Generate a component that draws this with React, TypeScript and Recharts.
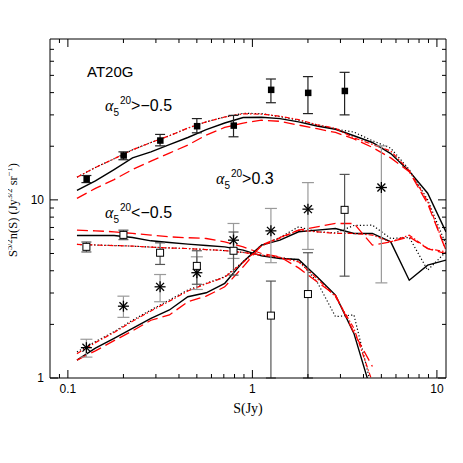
import React from "react"
import {
  ComposedChart,
  Line,
  Scatter,
  ErrorBar,
  XAxis,
  YAxis
} from "recharts"

// model grid (Jy)
const S_GRID = [0.112, 0.141, 0.178, 0.224, 0.282, 0.355, 0.447, 0.562, 0.708, 0.891, 1.12, 1.41, 1.78, 2.24, 2.82, 3.55, 4.47, 5.62, 7.08, 8.91, 11.2]

// alpha > -0.5 models
const ALL_SOLID = [11.3, 12.8, 14.8, 17.2, 18.6, 20.4, 22.4, 24.8, 27.0, 29.0, 29.1, 28.6, 27.4, 26.0, 24.9, 22.9, 21.0, 18.2, 14.5, 10.9, 6.6]
const ALL_DOTTED = [13.4, 15.2, 17.0, 19.1, 21.0, 22.9, 25.3, 27.4, 29.2, 30.6, 30.5, 29.3, 28.0, 26.4, 25.0, 24.0, 21.5, 19.5, 14.8, 10.0, 5.6]
const ALL_DASHDOT = [13.4, 15.2, 17.0, 19.1, 21.0, 22.9, 25.3, 27.4, 29.2, 30.4, 30.3, 29.5, 28.2, 26.4, 25.2, 22.3, 20.5, 18.8, 14.6, 9.8, 5.2]
const ALL_DASH = [10.2, 11.6, 13.0, 14.8, 16.5, 18.3, 20.3, 23.1, 25.5, 27.0, 28.0, 27.6, 26.3, 25.1, 23.9, 22.0, 19.7, 17.2, 14.4, 9.5, 5.2]

// alpha < -0.5 models
const STEEP_SOLID = [6.31, 6.31, 6.31, 6.15, 5.89, 5.76, 5.64, 5.54, 5.45, 5.22, 4.85, 4.69, 4.63, 3.70, 2.92, 1.78, 0.8]
const STEEP_DOTTED = [5.62, 5.58, 5.54, 5.50, 5.43, 5.37, 5.33, 5.26, 5.19, 5.07, 4.90, 4.75, 4.59, 3.47, 2.21, 2.26, 0.85]
const STEEP_DASHDOT = [5.62, 5.58, 5.54, 5.50, 5.43, 5.37, 5.33, 5.26, 5.19, 5.07, 4.90, 4.75, 4.49, 3.62, 2.86, 1.90, 0.95]
const STEEP_DASH = [6.76, 6.70, 6.62, 6.48, 6.34, 6.20, 6.13, 6.07, 5.81, 5.45, 5.00, 4.79, 4.15, 3.47, 2.92, 1.80, 1.16]

// alpha > 0.3 models
const INV_SOLID = [1.26, 1.47, 1.67, 1.90, 2.16, 2.41, 2.86, 3.01, 3.40, 4.50, 5.57, 5.94, 6.62, 6.76, 6.90, 6.48, 6.48, 5.81, 3.54, 4.30, 4.59]
const INV_DOTTED = [1.40, 1.60, 1.82, 2.11, 2.41, 2.74, 3.12, 3.40, 3.70, 4.49, 5.57, 6.15, 7.06, 6.62, 6.53, 7.18, 7.21, 6.07, 6.15, 4.03, 5.11]
const INV_DASHDOT = [1.37, 1.58, 1.80, 2.08, 2.38, 2.70, 3.08, 3.38, 3.68, 4.45, 5.50, 6.10, 6.76, 6.62, 6.48, 6.48, 6.34, 5.81, 6.34, 5.33, 5.11]
const INV_DASH = [1.26, 1.42, 1.62, 1.84, 2.11, 2.26, 2.68, 2.88, 3.25, 4.21, 5.57, 6.15, 6.76, 7.06, 7.37, 7.37, 5.57, 5.81, 6.20, 5.33, 4.99]

// measured counts
const BINS = [0.126, 0.2, 0.316, 0.5, 0.79, 1.26, 2.0, 3.16]
const ALL_N = [13.1, 17.8, 21.6, 26.0, 26.2, 41.6, 40.0, 41.0]
const ALL_LO = [12.5, 16.8, 20.1, 23.8, 22.6, 35.1, 30.5, 30.0]
const ALL_HI = [13.7, 18.6, 23.3, 28.6, 29.8, 47.7, 49.2, 52.0]

const STEEP_N = [5.45, 6.36, 5.05, 4.26, 5.18, 2.24, 2.96, 8.79]
const STEEP_LO = [5.1, 5.98, 4.34, 3.36, 3.78, 1.0, 1.0, 3.73]
const STEEP_HI = [5.8, 6.76, 5.74, 5.18, 6.6, 3.5, 5.05, 13.9]

const INV_BINS = [0.126, 0.2, 0.316, 0.5, 0.79, 1.26, 2.0, 5.0]
const INV_N = [1.48, 2.53, 3.25, 3.9, 5.94, 6.7, 8.87, 11.73]
const INV_LO = [1.31, 2.19, 2.68, 3.14, 4.69, 4.44, 5.27, 3.42]
const INV_HI = [1.65, 2.88, 3.81, 4.79, 7.37, 8.95, 12.5, 20.1]

const X_TICKS = [0.09, 0.1, 0.2, 0.3, 0.4, 0.5, 0.6, 0.7, 0.8, 0.9, 1, 2, 3, 4, 5, 6, 7, 8, 9, 10]
const X_MAJOR = [0.1, 1, 10]
const Y_TICKS = [1, 2, 3, 4, 5, 6, 7, 8, 9, 10, 20, 30, 40, 50, 60, 70]
const Y_MAJOR = [1, 10]

const W = 447
const H = 447

const line = (vals: number[]) => vals.map((v, i) => ({ s: S_GRID[i], v }))

const points = (xs: number[], n: number[], lo: number[], hi: number[]) =>
  n.map((v, i) => ({ s: xs[i], v, err: [v - lo[i], hi[i] - v] }))

const FilledSquare = (p: any) => (
  <rect x={p.cx - 3} y={p.cy - 3} width={6.5} height={6.5} fill="#000" />
)

const OpenSquare = (p: any) => (
  <rect x={p.cx - 3.5} y={p.cy - 3.5} width={7} height={7} fill="#fff" stroke="#000" strokeWidth={1} />
)

const Star = (p: any) => {
  const r = 5.5
  const d = r * 0.72
  return (
    <g stroke="#000" strokeWidth={1.3}>
      <line x1={p.cx} y1={p.cy - r} x2={p.cx} y2={p.cy + r} />
      <line x1={p.cx - r} y1={p.cy} x2={p.cx + r} y2={p.cy} />
      <line x1={p.cx - d} y1={p.cy - d} x2={p.cx + d} y2={p.cy + d} />
      <line x1={p.cx - d} y1={p.cy + d} x2={p.cx + d} y2={p.cy - d} />
    </g>
  )
}

const XTick = (p: any) => {
  const { x, y, payload, side } = p
  const major = X_MAJOR.includes(payload.value)
  const len = major ? 8 : 4
  const dir = side === "bottom" ? -1 : 1
  return (
    <g>
      <line x1={x} y1={y} x2={x} y2={y + dir * len} stroke="#000" strokeWidth={1} />
      {side === "bottom" && major && (
        <text x={x} y={y + 15} textAnchor="middle" fontSize={12} fontFamily="Liberation Sans, Arial, sans-serif" fill="#000">
          {payload.value}
        </text>
      )}
    </g>
  )
}

const YTick = (p: any) => {
  const { x, y, payload, side } = p
  const major = Y_MAJOR.includes(payload.value)
  const len = major ? 8 : 4
  const dir = side === "left" ? 1 : -1
  return (
    <g>
      <line x1={x} y1={y} x2={x + dir * len} y2={y} stroke="#000" strokeWidth={1} />
      {side === "left" && major && (
        <text x={x - 6} y={y + 4} textAnchor="end" fontSize={12} fontFamily="Liberation Sans, Arial, sans-serif" fill="#000">
          {payload.value}
        </text>
      )}
    </g>
  )
}

const AlphaLabel = ({ x, y, rest }: { x: number; y: number; rest: string }) => (
  <text x={x} y={y} fontSize={16} fontFamily="Liberation Sans, Arial, sans-serif" fill="#000">
    <tspan fontStyle="italic" fontFamily="Liberation Serif, serif">α</tspan>
    <tspan fontSize={10} dy={5}>5</tspan>
    <tspan fontSize={10} dy={-12} dx={1}>20</tspan>
    <tspan dy={7}>{rest}</tspan>
  </text>
)

const models = [
  { data: ALL_SOLID, kind: "solid" },
  { data: ALL_DOTTED, kind: "dotted" },
  { data: ALL_DASHDOT, kind: "dashdot" },
  { data: ALL_DASH, kind: "dash" },
  { data: STEEP_SOLID, kind: "solid" },
  { data: STEEP_DOTTED, kind: "dotted" },
  { data: STEEP_DASHDOT, kind: "dashdot" },
  { data: STEEP_DASH, kind: "dash" },
  { data: INV_SOLID, kind: "solid" },
  { data: INV_DOTTED, kind: "dotted" },
  { data: INV_DASHDOT, kind: "dashdot" },
  { data: INV_DASH, kind: "dash" }
]

const STYLE: Record<string, { stroke: string; dash?: string; width: number }> = {
  solid: { stroke: "#000", width: 1.4 },
  dotted: { stroke: "#000", dash: "1.2 2.2", width: 1.2 },
  dashdot: { stroke: "#ff0000", dash: "5 2 1.5 2", width: 1.2 },
  dash: { stroke: "#ff0000", dash: "11 5", width: 1.3 }
}

export default function App() {
  return (
    <div style={{ position: "relative", width: W, height: H }}>
      <ComposedChart width={W} height={H} margin={{ top: 30, right: 8, bottom: 37, left: 0 }}>

        <XAxis
          xAxisId="b"
          type="number"
          dataKey="s"
          scale="log"
          domain={[0.08, 11.2]}
          allowDataOverflow
          ticks={X_TICKS}
          interval={0}
          tickSize={0}
          tickMargin={0}
          tickLine={false}
          axisLine={{ stroke: "#000" }}
          height={40}
          tick={(p: any) => <XTick {...p} side="bottom" />}
        />
        <XAxis
          xAxisId="t"
          orientation="top"
          type="number"
          dataKey="s"
          scale="log"
          domain={[0.08, 11.2]}
          allowDataOverflow
          ticks={X_TICKS}
          interval={0}
          tickSize={0}
          tickMargin={0}
          tickLine={false}
          axisLine={{ stroke: "#000" }}
          height={1}
          tick={(p: any) => <XTick {...p} side="top" />}
        />
        <YAxis
          yAxisId="l"
          type="number"
          scale="log"
          domain={[1, 80]}
          allowDataOverflow
          ticks={Y_TICKS}
          interval={0}
          tickSize={0}
          tickMargin={0}
          tickLine={false}
          axisLine={{ stroke: "#000" }}
          width={42}
          tick={(p: any) => <YTick {...p} side="left" />}
        />
        <YAxis
          yAxisId="r"
          orientation="right"
          type="number"
          scale="log"
          domain={[1, 80]}
          allowDataOverflow
          ticks={Y_TICKS}
          interval={0}
          tickSize={0}
          tickMargin={0}
          tickLine={false}
          axisLine={{ stroke: "#000" }}
          width={1}
          tick={(p: any) => <YTick {...p} side="right" />}
        />

        {models.map((m, i) => {
          const st = STYLE[m.kind]
          return (
            <Line
              key={i}
              xAxisId="b"
              yAxisId="l"
              data={line(m.data)}
              dataKey="v"
              type="linear"
              stroke={st.stroke}
              strokeWidth={st.width}
              strokeDasharray={st.dash}
              dot={false}
              activeDot={false}
              isAnimationActive={false}
            />
          )
        })}

        <Scatter
          xAxisId="b"
          yAxisId="l"
          data={points(INV_BINS, INV_N, INV_LO, INV_HI)}
          dataKey="v"
          shape={Star}
          isAnimationActive={false}
        >
          <ErrorBar dataKey="err" direction="y" width={6} stroke="#9a9a9a" strokeWidth={1.2} />
        </Scatter>

        <Scatter
          xAxisId="b"
          yAxisId="l"
          data={points(BINS, STEEP_N, STEEP_LO, STEEP_HI)}
          dataKey="v"
          shape={OpenSquare}
          isAnimationActive={false}
        >
          <ErrorBar dataKey="err" direction="y" width={5} stroke="#555" strokeWidth={1.2} />
        </Scatter>

        <Scatter
          xAxisId="b"
          yAxisId="l"
          data={points(BINS, ALL_N, ALL_LO, ALL_HI)}
          dataKey="v"
          shape={FilledSquare}
          isAnimationActive={false}
        >
          <ErrorBar dataKey="err" direction="y" width={5} stroke="#222" strokeWidth={1.2} />
        </Scatter>

      </ComposedChart>

      <svg
        width={W}
        height={H}
        style={{ position: "absolute", left: 0, top: 0, pointerEvents: "none", overflow: "visible" }}
      >
        <text x={79} y={69} fontSize={15} fontFamily="Liberation Sans, Arial, sans-serif" fill="#000">AT20G</text>
        <AlphaLabel x={97} y={103} rest={">−0.5"} />
        <AlphaLabel x={208} y={176} rest={">0.3"} />
        <AlphaLabel x={97} y={210} rest={"<−0.5"} />

        <text x={240} y={405} textAnchor="middle" fontSize={14} fontFamily="Liberation Serif, serif" fill="#000">S(Jy)</text>

        <text
          transform="translate(9,202) rotate(-90)"
          textAnchor="middle"
          fontSize={12.5}
          fontFamily="Liberation Serif, serif"
          fill="#000"
        >
          <tspan>S</tspan>
          <tspan fontSize={8.5} dy={-5}>5/2</tspan>
          <tspan dy={5}>n(S) (Jy</tspan>
          <tspan fontSize={8.5} dy={-5}>3/2</tspan>
          <tspan dy={5}> sr</tspan>
          <tspan fontSize={8.5} dy={-5}>−1</tspan>
          <tspan dy={5}>)</tspan>
        </text>
      </svg>
    </div>
  )
}
